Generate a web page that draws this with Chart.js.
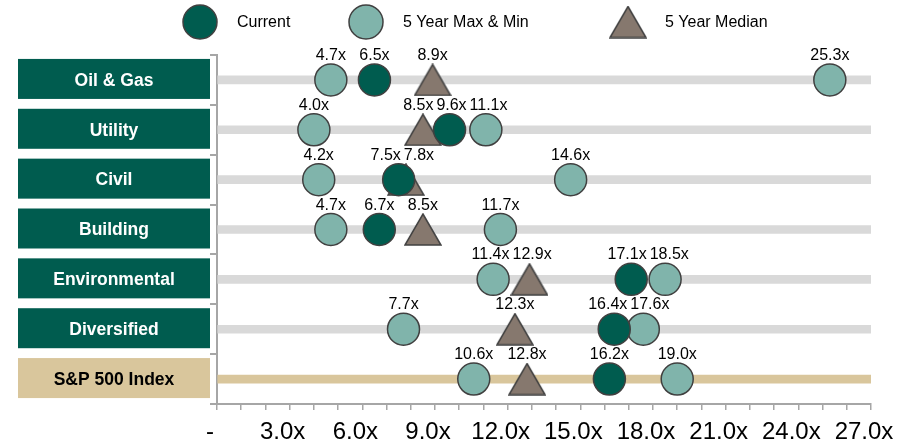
<!DOCTYPE html>
<html>
<head>
<meta charset="utf-8">
<script src="https://cdn.jsdelivr.net/npm/chart.js@4/dist/chart.umd.min.js"></script>
<style>
  html, body { margin: 0; padding: 0; background: #ffffff; }
  #wrap { width: 910px; height: 448px; }
</style>
</head>
<body>
<div id="wrap"><canvas id="c" width="910" height="448"></canvas></div>
<script>
// EV / EBITDA style multiples by sector
const categories = ['Oil & Gas', 'Utility', 'Civil', 'Building', 'Environmental', 'Diversified', 'S&P 500 Index'];
const currentMultiple = [6.5, 9.6, 7.5, 6.7, 17.1, 16.4, 16.2];
const fiveYearMin     = [4.7, 4.0, 4.2, 4.7, 11.4, 7.7, 10.6];
const fiveYearMax     = [25.3, 11.1, 14.6, 11.7, 18.5, 17.6, 19.0];
const fiveYearMedian  = [8.9, 8.5, 7.8, 8.5, 12.9, 12.3, 12.8];
const trackEnd        = [27, 27, 27, 27, 27, 27, 27];
const xTickLabels     = ['-', '3.0x', '6.0x', '9.0x', '12.0x', '15.0x', '18.0x', '21.0x', '24.0x', '27.0x'];
const legendLabels    = ['Current', '5 Year Max & Min', '5 Year Median'];

const GREEN = '#005c4f';
const TEAL = '#80b4ab';
const TAUPE = '#86786e';
const EDGE = '#404040';
const TRACK = '#d9d9d9';
const TAN = '#d9c69c';
const AXIS = '#a6a6a6';
const FONT = '"Liberation Sans", Arial, Helvetica, sans-serif';

Chart.defaults.font.family = FONT;

// triangle marker drawn centred on its bounding box
function makeTriangle(w, h) {
  const cv = document.createElement('canvas');
  cv.width = w; cv.height = h;
  const g = cv.getContext('2d');
  g.beginPath();
  g.moveTo(w / 2, 1);
  g.lineTo(w - 1, h - 1);
  g.lineTo(1, h - 1);
  g.closePath();
  g.fillStyle = TAUPE;
  g.fill();
  g.lineWidth = 1.5;
  g.strokeStyle = EDGE;
  g.lineJoin = 'miter';
  g.stroke();
  return cv;
}
const triangleImg = makeTriangle(38, 33);

const toPoints = (vals) => vals.map((v, i) => ({ x: v, y: categories[i] }));

// value labels above each marker; labels sharing a row are spread apart when they collide
const valueLabelPlugin = {
  id: 'valueLabels',
  afterDatasetsDraw(chart) {
    const ctx = chart.ctx;
    ctx.save();
    ctx.font = '16px ' + FONT;
    ctx.fillStyle = '#000000';
    ctx.textAlign = 'center';
    ctx.textBaseline = 'alphabetic';
    const rows = {};
    chart.data.datasets.forEach((ds, di) => {
      if (!ds.valueLabels) return;
      const meta = chart.getDatasetMeta(di);
      meta.data.forEach((el, i) => {
        const text = ds.data[i].x.toFixed(1) + 'x';
        const key = Math.round(el.y);
        (rows[key] = rows[key] || []).push({ text, x: el.x, y: el.y, w: ctx.measureText(text).width });
      });
    });
    const gap = 3;
    Object.values(rows).forEach((items) => {
      items.sort((a, b) => a.x - b.x);
      for (let pass = 0; pass < 30; pass++) {
        let moved = false;
        for (let k = 0; k < items.length - 1; k++) {
          const a = items[k], b = items[k + 1];
          const need = a.w / 2 + b.w / 2 + gap - (b.x - a.x);
          if (need > 0.1) { a.x -= need / 2; b.x += need / 2; moved = true; }
        }
        if (!moved) break;
      }
      items.forEach((it) => ctx.fillText(it.text, it.x, it.y - 20));
    });
    ctx.restore();
  }
};

// coloured category boxes on the left of the plot
const categoryBoxPlugin = {
  id: 'categoryBoxes',
  afterDraw(chart) {
    const ctx = chart.ctx;
    const ys = chart.scales.y;
    ctx.save();
    ctx.font = 'bold 17.5px ' + FONT;
    ctx.textAlign = 'center';
    ctx.textBaseline = 'middle';
    categories.forEach((name, i) => {
      const yc = ys.getPixelForValue(i);
      const isIndex = i === categories.length - 1;
      ctx.fillStyle = isIndex ? TAN : GREEN;
      ctx.fillRect(18, yc - 21, 192, 40);
      ctx.fillStyle = isIndex ? '#000000' : '#ffffff';
      ctx.fillText(name, 114, yc + 1);
    });
    ctx.restore();
  }
};

// legend row across the top
const topLegendPlugin = {
  id: 'topLegend',
  afterDraw(chart) {
    const ctx = chart.ctx;
    ctx.save();
    const cy = 22;
    ctx.lineWidth = 1.5;
    ctx.strokeStyle = EDGE;
    [[200, GREEN], [366, TEAL]].forEach(([cx, col]) => {
      ctx.beginPath();
      ctx.arc(cx, cy, 17, 0, Math.PI * 2);
      ctx.fillStyle = col;
      ctx.fill();
      ctx.stroke();
    });
    ctx.drawImage(triangleImg, 628 - triangleImg.width / 2, cy - triangleImg.height / 2);
    ctx.font = '16px ' + FONT;
    ctx.fillStyle = '#000000';
    ctx.textAlign = 'left';
    ctx.textBaseline = 'middle';
    [237, 403, 665].forEach((x, i) => ctx.fillText(legendLabels[i], x, cy + 1));
    ctx.restore();
  }
};

const pointBase = {
  type: 'scatter',
  pointRadius: 16,
  pointHoverRadius: 16,
  pointBorderWidth: 1.5,
  pointBorderColor: EDGE,
  valueLabels: true
};

new Chart(document.getElementById('c'), {
  type: 'bar',
  data: {
    labels: categories,
    datasets: [
      Object.assign({}, pointBase, {
        label: legendLabels[0],
        data: toPoints(currentMultiple),
        pointBackgroundColor: GREEN,
        order: 0
      }),
      Object.assign({}, pointBase, {
        label: legendLabels[1],
        data: toPoints(fiveYearMin).concat(toPoints(fiveYearMax)),
        pointBackgroundColor: TEAL,
        order: 1
      }),
      Object.assign({}, pointBase, {
        label: legendLabels[2],
        data: toPoints(fiveYearMedian),
        pointStyle: triangleImg,
        pointRadius: 18,
        pointHoverRadius: 18,
        order: 2
      }),
      {
        type: 'bar',
        label: 'track',
        indexAxis: 'y',
        data: trackEnd,
        backgroundColor: categories.map((c, i) => i === categories.length - 1 ? TAN : TRACK),
        barThickness: 8,
        borderWidth: 0,
        order: 3
      }
    ]
  },
  options: {
    responsive: false,
    animation: false,
    devicePixelRatio: 1,
    layout: { padding: { top: 55, right: 39, left: 0, bottom: 0 } },
    plugins: {
      legend: { display: false },
      tooltip: { enabled: false }
    },
    scales: {
      x: {
        type: 'linear',
        min: 0,
        max: 27,
        offset: false,
        afterFit(s) { s.height = 44; },
        ticks: {
          stepSize: 1,
          autoSkip: false,
          maxRotation: 0,
          color: '#000000',
          font: { size: 24 },
          padding: 8,
          labelOffset: -7,
          callback: (v) => (v % 3 === 0 ? xTickLabels[v / 3] : '')
        },
        grid: { offset: false, drawOnChartArea: false, drawTicks: true, tickLength: 6, color: AXIS, lineWidth: 1.5 },
        border: { display: true, color: AXIS, width: 2 }
      },
      y: {
        type: 'category',
        position: 'left',
        offset: true,
        afterFit(s) { s.width = 217; },
        ticks: { display: false },
        grid: { offset: true, drawOnChartArea: false, drawTicks: true, tickLength: 7, color: AXIS, lineWidth: 2 },
        border: { display: true, color: AXIS, width: 2 }
      }
    }
  },
  plugins: [valueLabelPlugin, categoryBoxPlugin, topLegendPlugin]
});
</script>
</body>
</html>
